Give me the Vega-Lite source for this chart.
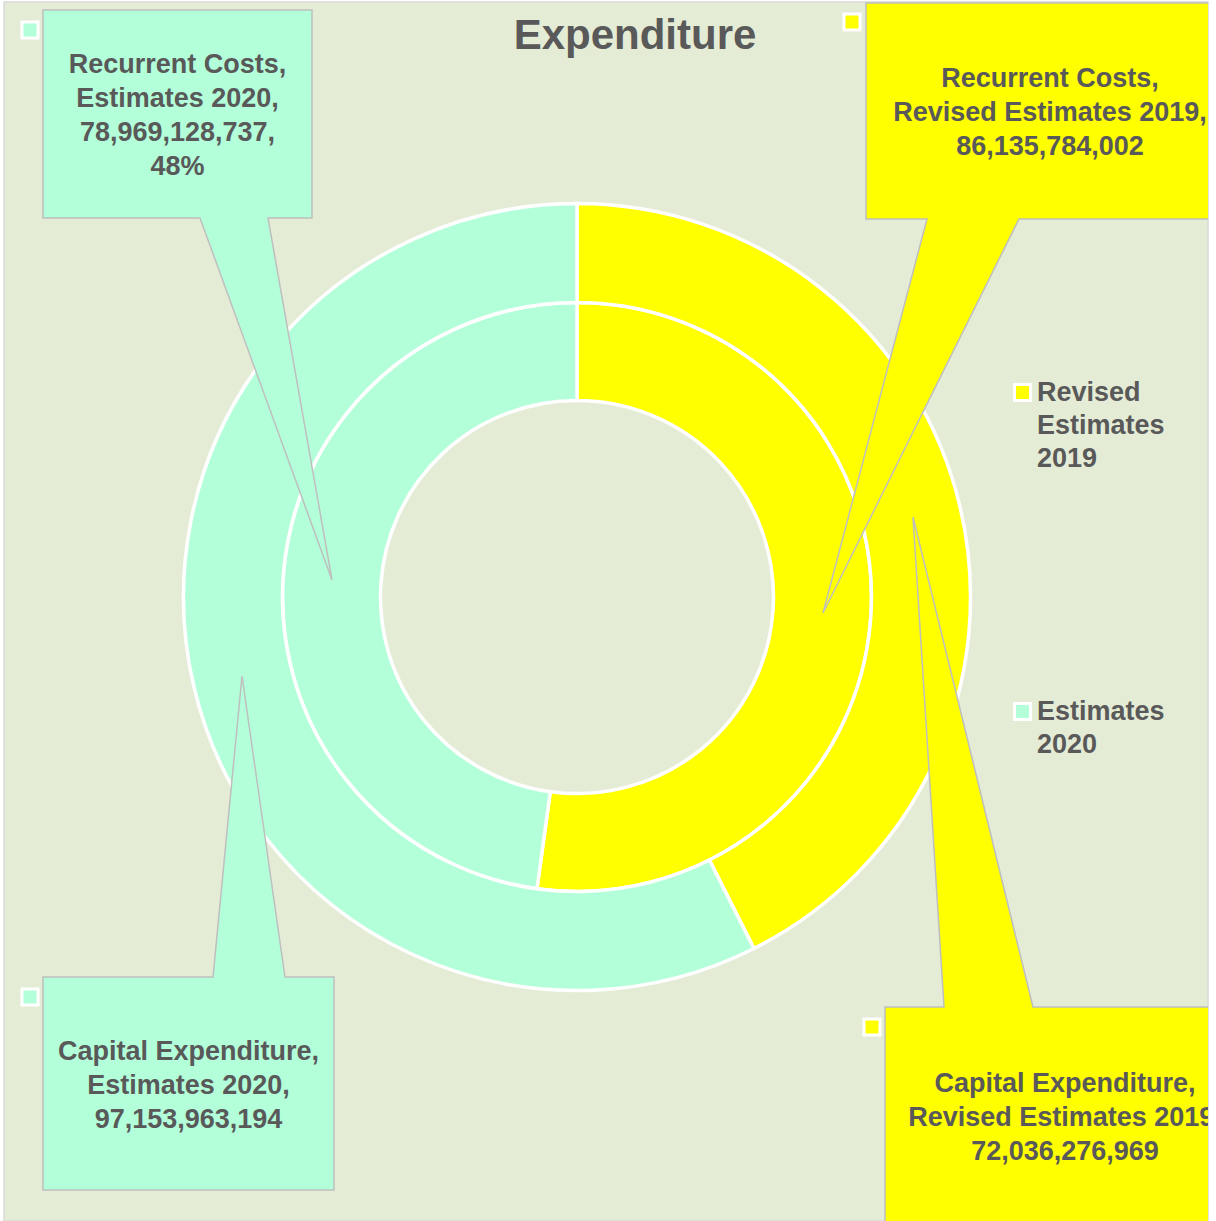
{
  "$schema": "https://vega.github.io/schema/vega-lite/v6.json",
  "width": 1216,
  "height": 1221,
  "autosize": {"type": "fit", "contains": "padding"},
  "padding": {"left": 4, "top": 2, "right": 8, "bottom": 0},
  "background": "#FFFFFF",
  "config": {
    "view": {"fill": "#E5ECD6", "stroke": "#D9D9D9", "strokeWidth": 1.5},
    "font": "Liberation Sans"
  },
  "title": {
    "text": "Expenditure",
    "font": "Liberation Sans",
    "fontWeight": "bold",
    "fontSize": 42,
    "color": "#595959",
    "anchor": "middle",
    "baseline": "alphabetic",
    "dx": 29,
    "offset": -89
  },
  "datasets": {
    "spend": [
      {"series": "Recurrent Costs", "category": "Revised Estimates 2019", "value": 86135784002, "k": 1},
      {"series": "Recurrent Costs", "category": "Estimates 2020", "value": 78969128737, "k": 2},
      {"series": "Capital Expenditure", "category": "Revised Estimates 2019", "value": 72036276969, "k": 1},
      {"series": "Capital Expenditure", "category": "Estimates 2020", "value": 97153963194, "k": 2}
    ],
    "callouts": [
      {"box": "rc2020", "category": "Estimates 2020", "label": "Recurrent Costs,\nEstimates 2020,\n78,969,128,737,\n48%", "tx": -399.5, "ty": 532, "sx": -547, "sy": 567},
      {"box": "rc2019", "category": "Revised Estimates 2019", "label": "Recurrent Costs,\nRevised Estimates 2019,\n86,135,784,002", "tx": 473, "ty": 518, "sx": 275, "sy": 575},
      {"box": "ce2020", "category": "Estimates 2020", "label": "Capital Expenditure,\nEstimates 2020,\n97,153,963,194", "tx": -388.5, "ty": -455, "sx": -547, "sy": -400},
      {"box": "ce2019", "category": "Revised Estimates 2019", "label": "Capital Expenditure,\nRevised Estimates 2019,\n72,036,276,969", "tx": 488, "ty": -487, "sx": 295, "sy": -430}
    ],
    "outlines": [
      {"box": "rc2020", "category": "Estimates 2020", "v": 1, "cx": -534, "cy": 587},
      {"box": "rc2020", "category": "Estimates 2020", "v": 2, "cx": -265, "cy": 587},
      {"box": "rc2020", "category": "Estimates 2020", "v": 3, "cx": -265, "cy": 379},
      {"box": "rc2020", "category": "Estimates 2020", "v": 4, "cx": -309, "cy": 379},
      {"box": "rc2020", "category": "Estimates 2020", "v": 5, "cx": -245, "cy": 17},
      {"box": "rc2020", "category": "Estimates 2020", "v": 6, "cx": -377, "cy": 379},
      {"box": "rc2020", "category": "Estimates 2020", "v": 7, "cx": -534, "cy": 379},
      {"box": "rc2019", "category": "Revised Estimates 2019", "v": 1, "cx": 289, "cy": 594},
      {"box": "rc2019", "category": "Revised Estimates 2019", "v": 2, "cx": 663, "cy": 594},
      {"box": "rc2019", "category": "Revised Estimates 2019", "v": 3, "cx": 663, "cy": 378},
      {"box": "rc2019", "category": "Revised Estimates 2019", "v": 4, "cx": 442, "cy": 378},
      {"box": "rc2019", "category": "Revised Estimates 2019", "v": 5, "cx": 246, "cy": -16},
      {"box": "rc2019", "category": "Revised Estimates 2019", "v": 6, "cx": 350, "cy": 378},
      {"box": "rc2019", "category": "Revised Estimates 2019", "v": 7, "cx": 289, "cy": 378},
      {"box": "ce2020", "category": "Estimates 2020", "v": 1, "cx": -534, "cy": -380},
      {"box": "ce2020", "category": "Estimates 2020", "v": 2, "cx": -364, "cy": -380},
      {"box": "ce2020", "category": "Estimates 2020", "v": 3, "cx": -335, "cy": -79},
      {"box": "ce2020", "category": "Estimates 2020", "v": 4, "cx": -292, "cy": -380},
      {"box": "ce2020", "category": "Estimates 2020", "v": 5, "cx": -243, "cy": -380},
      {"box": "ce2020", "category": "Estimates 2020", "v": 6, "cx": -243, "cy": -593},
      {"box": "ce2020", "category": "Estimates 2020", "v": 7, "cx": -534, "cy": -593},
      {"box": "ce2019", "category": "Revised Estimates 2019", "v": 1, "cx": 308, "cy": -410},
      {"box": "ce2019", "category": "Revised Estimates 2019", "v": 2, "cx": 367, "cy": -410},
      {"box": "ce2019", "category": "Revised Estimates 2019", "v": 3, "cx": 336, "cy": 80},
      {"box": "ce2019", "category": "Revised Estimates 2019", "v": 4, "cx": 456, "cy": -410},
      {"box": "ce2019", "category": "Revised Estimates 2019", "v": 5, "cx": 667, "cy": -410},
      {"box": "ce2019", "category": "Revised Estimates 2019", "v": 6, "cx": 667, "cy": -640},
      {"box": "ce2019", "category": "Revised Estimates 2019", "v": 7, "cx": 308, "cy": -640}
    ]
  },
  "layer": [
    {
      "data": {"name": "spend"},
      "transform": [
        {"filter": "datum.series === 'Recurrent Costs'"},
        {"stack": "value", "groupby": [], "sort": [{"field": "k", "order": "ascending"}], "as": ["t0", "t1"]}
      ],
      "mark": {"type": "arc", "radius": 294.5, "radius2": 196.5, "stroke": "#FFFFFF", "strokeWidth": 3.5},
      "encoding": {
        "x": {"datum": 0, "type": "quantitative", "scale": {"domain": [-573, 631], "nice": false, "zero": false}, "axis": null},
        "y": {"datum": 0, "type": "quantitative", "scale": {"domain": [-624, 595], "nice": false, "zero": false}, "axis": null},
        "theta": {"field": "t1", "type": "quantitative", "stack": null, "scale": {"zero": true}},
        "theta2": {"field": "t0"},
        "color": {
          "field": "category",
          "type": "nominal",
          "scale": {"domain": ["Revised Estimates 2019", "Estimates 2020"], "range": ["#FFFF00", "#B3FFD9"]},
          "legend": {
            "orient": "none",
            "legendX": 1005,
            "legendY": 377,
            "title": null,
            "symbolType": "square",
            "symbolSize": 256,
            "symbolStrokeColor": "#FFFFFF",
            "symbolStrokeWidth": 3,
            "symbolOpacity": 1,
            "labelFont": "Liberation Sans",
            "labelFontWeight": "bold",
            "labelFontSize": 27,
            "labelColor": "#595959",
            "labelLimit": 300,
            "labelOffset": 1,
            "labelBaseline": "middle",
            "labelExpr": "split(datum.label, ' ')",
            "rowPadding": 225,
            "encode": {"labels": {"update": {"lineHeight": {"value": 33}}}}
          }
        }
      }
    },
    {
      "data": {"name": "spend"},
      "transform": [
        {"filter": "datum.series === 'Capital Expenditure'"},
        {"stack": "value", "groupby": [], "sort": [{"field": "k", "order": "ascending"}], "as": ["t0", "t1"]}
      ],
      "mark": {"type": "arc", "radius": 393.5, "radius2": 294.5, "stroke": "#FFFFFF", "strokeWidth": 3.5},
      "encoding": {
        "x": {"datum": 0, "type": "quantitative"},
        "y": {"datum": 0, "type": "quantitative"},
        "theta": {"field": "t1", "type": "quantitative", "stack": null, "scale": {"zero": true}},
        "theta2": {"field": "t0"},
        "color": {"field": "category", "type": "nominal"}
      }
    },
    {
      "data": {"name": "outlines"},
      "mark": {"type": "line", "interpolate": "linear-closed", "stroke": "#BFBFBF", "strokeWidth": 1.5, "strokeJoin": "miter", "clip": true},
      "encoding": {
        "x": {"field": "cx", "type": "quantitative"},
        "y": {"field": "cy", "type": "quantitative"},
        "order": {"field": "v", "type": "quantitative"},
        "detail": {"field": "box", "type": "nominal"},
        "fill": {
          "field": "category",
          "type": "nominal",
          "scale": {"domain": ["Revised Estimates 2019", "Estimates 2020"], "range": ["#FFFF00", "#B3FFD9"]},
          "legend": null
        }
      }
    },
    {
      "data": {"name": "callouts"},
      "mark": {"type": "text", "font": "Liberation Sans", "fontWeight": "bold", "fontSize": 27, "lineHeight": 34, "color": "#595959", "align": "center", "baseline": "middle", "lineBreak": "\n", "clip": true},
      "encoding": {
        "x": {"field": "tx", "type": "quantitative"},
        "y": {"field": "ty", "type": "quantitative"},
        "text": {"field": "label", "type": "nominal"}
      }
    },
    {
      "data": {"name": "callouts"},
      "mark": {"type": "point", "shape": "square", "size": 256, "filled": true, "stroke": "#FFFFFF", "strokeWidth": 3, "opacity": 1},
      "encoding": {
        "x": {"field": "sx", "type": "quantitative"},
        "y": {"field": "sy", "type": "quantitative"},
        "fill": {"field": "category", "type": "nominal", "legend": null}
      }
    }
  ],
  "resolve": {"scale": {"theta": "independent"}}
}
